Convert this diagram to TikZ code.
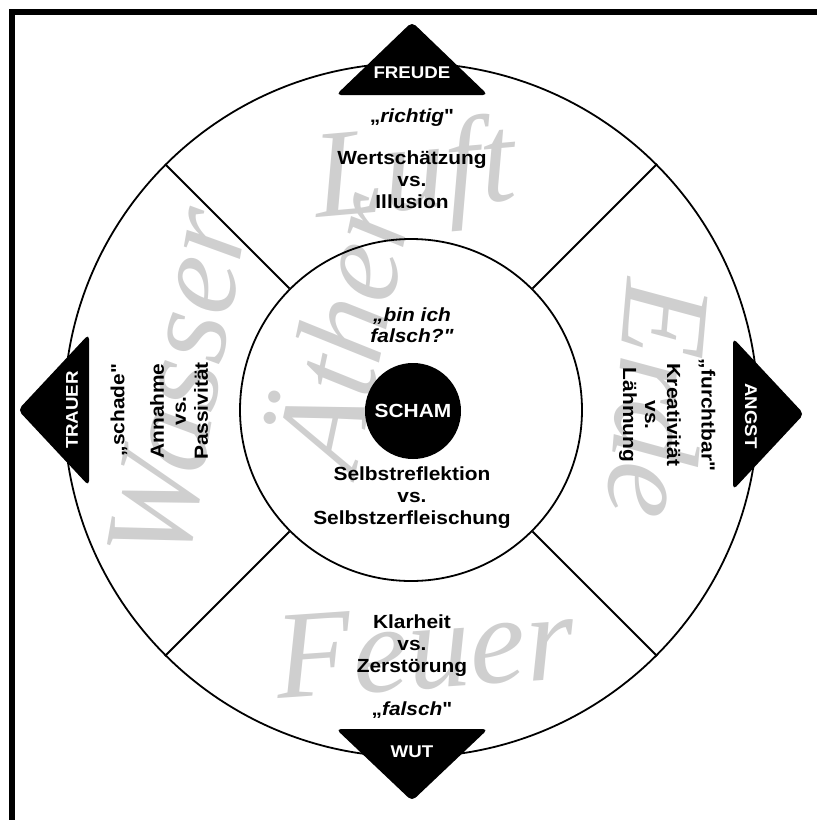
\documentclass[tikz,border=0pt]{standalone}
\usepackage{fontspec}
\setmainfont{Liberation Sans}[FakeStretch=1.1, Ligatures=TeXOff]
\newfontfamily\handfont{Liberation Serif}
\usetikzlibrary{positioning, calc}

\begin{document}
\begin{tikzpicture}[x=1pt, y=-1pt,
    ring/.style={circle, draw, line width=1.8pt, inner sep=0pt},
    spoke/.style={line width=1.8pt},
    pointer/.style={fill=black, rounded corners=5pt},
    emo/.style={text=white, font=\bfseries\fontsize{17}{19}\selectfont},
    pole/.style={font=\bfseries\fontsize{19}{21}\selectfont, align=center},
    pair/.style={font=\bfseries\fontsize{19}{22}\selectfont, align=center},
    element/.style={text=black!19, font=\handfont\itshape\fontsize{125}{125}\selectfont}]
        \useasboundingbox (0,0) rectangle (817,820);
        \coordinate (c) at (411,410);

        % frame
        \fill (9,9) rectangle (817,15);
        \fill (9,9) rectangle (15,820);

        % the elements behind
        \node[element, rotate=5] (luft) at (415,178) {Luft};
        \node[element, rotate=80] (wasser) at (178,385) {Wasser};
        \node[element, rotate=-95] (erde) at (660,400) {Erde};
        \node[element, rotate=4] (feuer) at (425,648) {Feuer};
        \node[element, rotate=78] (aether) at (335,330) {Äther};

        % rings and spokes
        \node[ring, minimum size=694pt] (rim) at (c) {};
        \node[ring, minimum size=342pt] (hub) at (c) {};
        \draw[spoke] (hub.45) -- (rim.45);
        \draw[spoke] (hub.135) -- (rim.135);
        \draw[spoke] (hub.225) -- (rim.225);
        \draw[spoke] (hub.315) -- (rim.315);

        % pointers
        \fill[pointer] (336,95) -- (412,22) -- (488,95) -- cycle;
        \fill[pointer] (336,729) -- (412,801) -- (488,729) -- cycle;
        \fill[pointer] (89,334) -- (18,410) -- (89,486) -- cycle;
        \fill[pointer] (733,338) -- (804,414) -- (733,490) -- cycle;
        \node[emo] (freude) at (412,73) {FREUDE};
        \node[emo] (wut) at (412,752) {WUT};
        \node[emo, rotate=90] (trauer) at (72,410) {TRAUER};
        \node[emo, rotate=-90] (angst) at (751,416) {ANGST};

        % top
        \node[pole] (richtig) at (412,118) {„\textit{richtig}"};
        \node[pair] (wert) at (412,180) {Wertschätzung\\vs.\\Illusion};
        % bottom
        \node[pair] (klar) at (412,646) {Klarheit\\vs.\\Zerstörung};
        \node[pole] (falsch) at (412,710) {„\textit{falsch}"};
        % left
        \node[pole, rotate=90] (schade) at (119,410) {„schade"};
        \node[pair, rotate=90] (annahme) at (179,411) {Annahme\\vs.\\Passivität};
        % right
        \node[pole, rotate=-90] (furchtbar) at (707,415) {„furchtbar"};
        \node[pair, rotate=-90] (kreativ) at (650,415) {Kreativität\\vs.\\Lähmung};

        % centre
        \node[pole, font=\bfseries\itshape\fontsize{19}{21}\selectfont] (binich) at (412,325) {„bin ich\\falsch?"};
        \node[circle, fill=black, minimum size=96pt, text=white, font=\bfseries\fontsize{19}{21}\selectfont] (scham) at (413,411) {SCHAM};
        \node[pair] (selbst) at (412,498) {Selbstreflektion\\vs.\\Selbstzerfleischung};
    \end{tikzpicture}
\end{document}
